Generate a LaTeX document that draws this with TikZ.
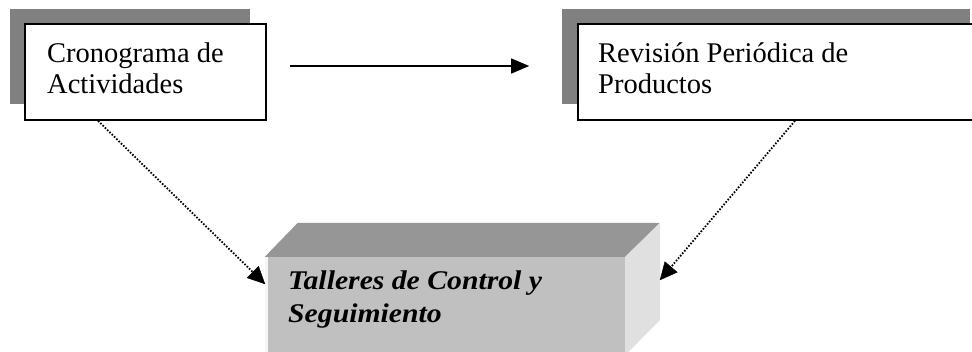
\documentclass[tikz,border=0pt]{standalone}
\usepackage{fontspec}
\setmainfont{Liberation Serif}
\usetikzlibrary{arrows.meta,calc}
\definecolor{shadowgray}{HTML}{808080}
\definecolor{frontgray}{HTML}{C0C0C0}
\definecolor{topgray}{HTML}{969696}
\definecolor{sidegray}{HTML}{E0E0E0}
\tikzset{
  whitebox/.style={draw=black, line width=1.6pt, fill=white, inner sep=0pt},
  boxtext/.style={anchor=base west, inner sep=0pt, font=\fontsize{28.5}{31}\selectfont},
  boldtext/.style={anchor=base west, inner sep=0pt, font=\fontsize{27}{31}\selectfont\bfseries\itshape\addfontfeature{FakeStretch=1.1}},
  solidarrow/.style={line width=1.4pt, -{Triangle[length=18pt,width=15pt]}},
  dotline/.style={line width=1.8pt, dash pattern=on 1.6pt off 1.6pt, shorten >=12pt},
  dottip/.style={fill=black, draw=black, line width=0.5pt, line join=miter},
}
\begin{document}
\begin{tikzpicture}[x=1pt,y=-1pt]
\useasboundingbox (0,0) rectangle (972,352);
% shadows
\fill[shadowgray] (10,9) rectangle (250,104);
\fill[shadowgray] (562,9) rectangle (970,104);
% white boxes
\node[whitebox, minimum width=241pt, minimum height=96pt] (crono) at (145.5,72) {};
\node[whitebox, minimum width=412pt, minimum height=96pt] (revision) at (784,72) {};
\node[boxtext] (cronoA) at (47,63) {Cronograma de};
\node[boxtext] (cronoB) at (47,94) {Actividades};
\node[boxtext] (revA) at (598,63) {Revisión Periódica de};
\node[boxtext] (revB) at (598,94) {Productos};
% 3D block
\node[fill=frontgray, inner sep=0pt, minimum width=360pt, minimum height=98pt] (talleres) at (445,306) {};
\fill[topgray] (talleres.north west) -- ++(33,-34) -- ++(362,0) -- (talleres.north east) -- cycle;
\fill[sidegray] (talleres.north east) -- ++(35,-34) -- ++(0,97) -- (talleres.south east) -- cycle;
\fill[white!85!frontgray] (talleres.north west) rectangle ++(3,98);
\node[boldtext] (tallA) at (288,290) {Talleres de Control y};
\node[boldtext] (tallB) at (288,323) {Seguimiento};
% connectors
\coordinate (s1) at ($(crono.south)+(-47.5,0)$);
\coordinate (e1) at ($(talleres.north west)+(0,27)$);
\coordinate (s2) at ($(revision.south)+(11,0)$);
\coordinate (e2) at ($(talleres.north east)+(35,23)$);
\coordinate (p1a) at (247.3,277.8);
\coordinate (p1b) at (258.5,266.4);
\coordinate (p2a) at (664.9,261.8);
\coordinate (p2b) at (677.1,272.2);
\draw[solidarrow] ($(crono.east)+(23,-6)$) -- ($(revision.west)+(-48,-6)$);
\draw[dotline] (s1) -- (e1);
\filldraw[dottip] (e1) -- (p1a) -- (p1b) -- cycle;
\draw[dotline] (s2) -- (e2);
\filldraw[dottip] (e2) -- (p2a) -- (p2b) -- cycle;
\end{tikzpicture}
\end{document}
